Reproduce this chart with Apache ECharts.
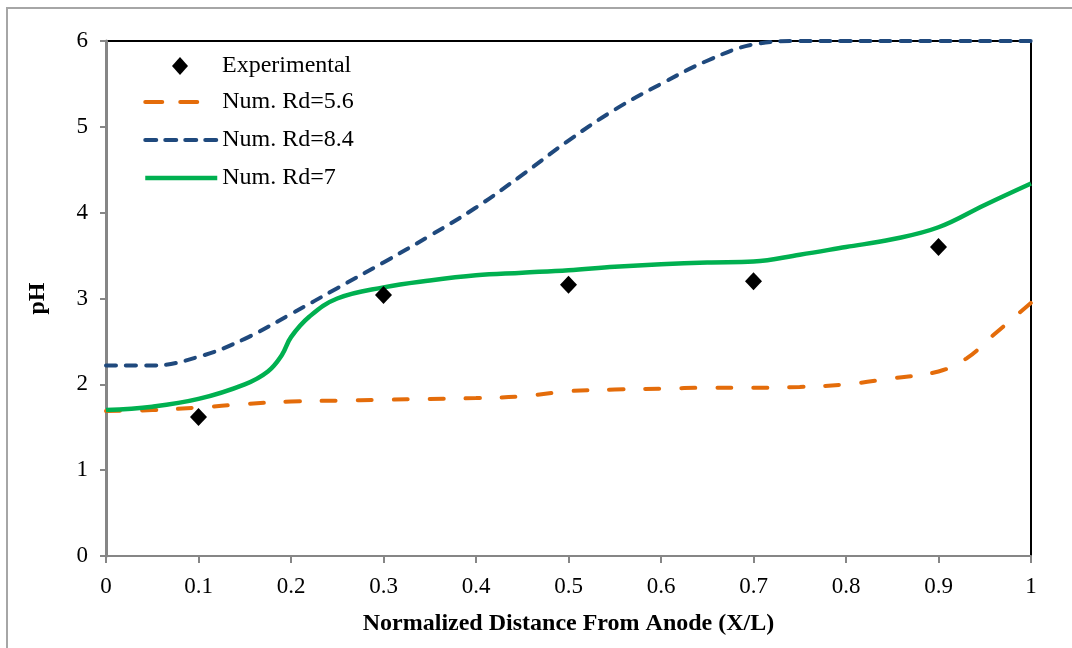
<!DOCTYPE html>
<html>
<head>
<meta charset="utf-8">
<script src="https://cdn.jsdelivr.net/npm/echarts@6/dist/echarts.min.js"></script>
<style>
  html, body { margin: 0; padding: 0; background: #fff; }
  #chart { width: 1072px; height: 648px; }
</style>
</head>
<body>
<div id="chart"></div>
<script>
// experimental points
const expX = [0.1, 0.3, 0.5, 0.7, 0.9];
const expPH = [1.62, 3.04, 3.16, 3.2, 3.6];

// Num. Rd=5.6
const rd56X = [0, 0.05, 0.1, 0.15, 0.2, 0.25, 0.3, 0.35, 0.4, 0.45, 0.5, 0.55, 0.6, 0.65, 0.7, 0.75, 0.8, 0.85, 0.9, 0.93, 0.96, 1];
const rd56PH = [1.69, 1.7, 1.73, 1.77, 1.8, 1.81, 1.82, 1.83, 1.84, 1.86, 1.92, 1.94, 1.95, 1.96, 1.96, 1.97, 2.0, 2.07, 2.15, 2.3, 2.58, 2.95];

// Num. Rd=8.4
const rd84X = [0, 0.05, 0.1, 0.15, 0.2, 0.25, 0.3, 0.35, 0.4, 0.45, 0.5, 0.55, 0.6, 0.65, 0.7, 0.75, 0.8, 0.85, 0.9, 0.95, 1];
const rd84PH = [2.22, 2.22, 2.32, 2.53, 2.82, 3.12, 3.42, 3.73, 4.06, 4.44, 4.84, 5.2, 5.5, 5.77, 5.96, 6.0, 6.0, 6.0, 6.0, 6.0, 6.0];

// Num. Rd=7
const rd7X = [0, 0.05, 0.1, 0.15, 0.175, 0.19, 0.2, 0.22, 0.25, 0.3, 0.35, 0.4, 0.45, 0.5, 0.55, 0.6, 0.65, 0.7, 0.75, 0.8, 0.85, 0.9, 0.95, 1];
const rd7PH = [1.7, 1.74, 1.83, 2.0, 2.15, 2.34, 2.55, 2.79, 3.0, 3.13, 3.21, 3.27, 3.3, 3.33, 3.37, 3.4, 3.42, 3.43, 3.51, 3.6, 3.69, 3.83, 4.09, 4.34];

const seriesNames = ["Experimental", "Num. Rd=5.6", "Num. Rd=8.4", "Num. Rd=7"];

const pairs = (xs, ys) => xs.map((x, i) => [x, ys[i]]);

const font = "Liberation Serif";
const orange = "#E46C0A";
const blue = "#1F497D";
const green = "#00B050";

const orangeDash = { color: orange, width: 4, type: [14, 22], cap: "round" };
const blueDash = { color: blue, width: 4, type: [10, 10], cap: "round" };
const greenLine = { color: green, width: 4.5 };

const legendText = { fontFamily: font, fontSize: 24, lineHeight: 24, color: "#000" };
const titleText = { fontFamily: font, fontSize: 24, fontWeight: "bold", color: "#000" };

const getOption = () => {
    return {
        animation: false,
        backgroundColor: "#fff",
        textStyle: { fontFamily: font, color: "#000" },
        graphic: [
            {
                type: "rect",
                shape: { x: 7, y: 8, width: 1100, height: 700 },
                style: { fill: "none", stroke: "#a6a6a6", lineWidth: 2 },
                silent: true
            }
        ],
        grid: {
            left: 106,
            top: 41,
            right: 41,
            bottom: 92,
            show: true,
            borderColor: "#000",
            borderWidth: 2
        },
        legend: [
            {
                orient: "vertical",
                left: 167,
                top: 49,
                itemWidth: 16,
                itemHeight: 18,
                data: [{ name: seriesNames[0], icon: "diamond" }],
                textStyle: Object.assign({ padding: [0, 0, 0, 29] }, legendText)
            },
            {
                orient: "vertical",
                left: 138,
                top: 85,
                itemWidth: 72,
                itemHeight: 14,
                itemGap: 14,
                data: [
                    { name: seriesNames[1], itemStyle: { opacity: 0 }, lineStyle: { color: orange, width: 4, type: [17, 18, 17, 40], cap: "round", opacity: 1 } },
                    { name: seriesNames[2], itemStyle: { opacity: 0 }, lineStyle: { color: blue, width: 4, type: [11, 9], cap: "round", opacity: 1 } },
                    { name: seriesNames[3], itemStyle: { opacity: 0 }, lineStyle: { color: green, width: 4.5, opacity: 1 } }
                ],
                textStyle: legendText
            }
        ],
        xAxis: {
            type: "value",
            min: 0,
            max: 1,
            interval: 0.1,
            name: "Normalized Distance From Anode (X/L)",
            nameLocation: "middle",
            nameGap: 56,
            nameTextStyle: titleText,
            axisLine: { show: true, lineStyle: { color: "#868686", width: 2 } },
            axisTick: { show: true, length: 7, lineStyle: { color: "#868686", width: 2 } },
            axisLabel: { margin: 19, fontFamily: font, fontSize: 23, color: "#000" },
            splitLine: { show: false }
        },
        yAxis: {
            type: "value",
            min: 0,
            max: 6,
            interval: 1,
            name: "pH",
            nameLocation: "middle",
            nameGap: 56,
            nameTextStyle: titleText,
            axisLine: { show: true, lineStyle: { color: "#868686", width: 3 } },
            axisTick: { show: true, length: 6, lineStyle: { color: "#868686", width: 2 } },
            axisLabel: { margin: 18, fontFamily: font, fontSize: 23, color: "#000" },
            splitLine: { show: false }
        },
        series: [
            {
                name: seriesNames[1],
                type: "line",
                smooth: 0.4,
                symbol: "none",
                data: pairs(rd56X, rd56PH),
                color: orange,
                lineStyle: orangeDash
            },
            {
                name: seriesNames[2],
                type: "line",
                smooth: 0.4,
                symbol: "none",
                data: pairs(rd84X, rd84PH),
                color: blue,
                lineStyle: blueDash
            },
            {
                name: seriesNames[3],
                type: "line",
                smooth: 0.4,
                symbol: "none",
                data: pairs(rd7X, rd7PH),
                color: green,
                lineStyle: greenLine
            },
            {
                name: seriesNames[0],
                type: "scatter",
                symbol: "diamond",
                symbolSize: [17, 18],
                data: pairs(expX, expPH),
                itemStyle: { color: "#000", opacity: 1 },
                z: 5
            }
        ]
    };
};

const chart = echarts.init(document.getElementById("chart"));
chart.setOption(getOption());
</script>
</body>
</html>
